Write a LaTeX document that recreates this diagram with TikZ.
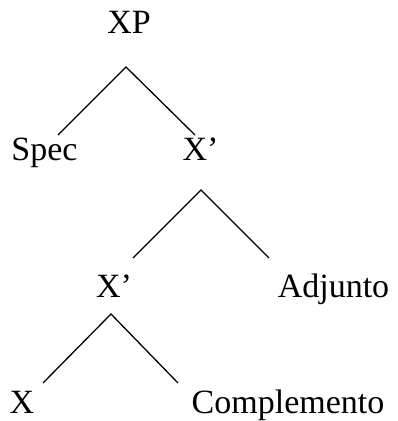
\documentclass[tikz,border=0pt]{standalone}
\usepackage{fontspec}
\setmainfont{Liberation Serif}
\begin{document}
\begin{tikzpicture}[x=1pt,y=-1pt,
  lab/.style={anchor=base,inner sep=0pt,font=\fontsize{34}{40}\selectfont},
  branch/.style={line width=1.3pt}]
\useasboundingbox (0,0) rectangle (398,421);
\node[lab] (XP) at (129,33) {XP};
\node[lab] (Spec) at (44.5,160) {Spec};
\node[lab] (Xb1) at (200.5,160) {X’};
\node[lab] (Xb2) at (114,297) {X’};
\node[lab] (Adj) at (333.5,297) {Adjunto};
\node[lab] (X) at (22,413) {X};
\node[lab] (Comp) at (288,413) {Complemento};
\coordinate (a1) at (126,67);
\coordinate (l1) at (58,135);
\coordinate (r1) at (195,135);
\coordinate (a2) at (201,190);
\coordinate (l2) at (133,258);
\coordinate (r2) at (269,258);
\coordinate (a3) at (111,314);
\coordinate (l3) at (43,383);
\coordinate (r3) at (178,383);
\draw[branch] (l1) -- (a1) -- (r1);
\draw[branch] (l2) -- (a2) -- (r2);
\draw[branch] (l3) -- (a3) -- (r3);
\end{tikzpicture}
\end{document}
